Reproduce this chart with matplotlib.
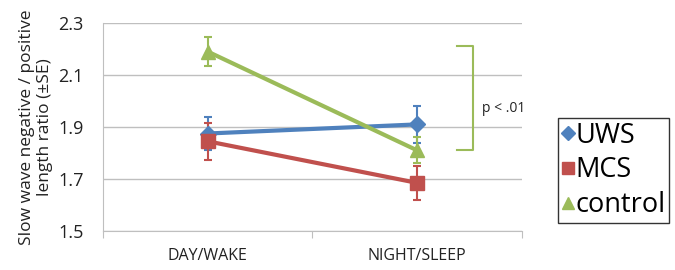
import numpy as np
import matplotlib.pyplot as plt
from matplotlib.lines import Line2D

plt.rcParams['font.family'] = ['Open Sans', 'DejaVu Sans']

categories = ["DAY/WAKE", "NIGHT/SLEEP"]
groups = ["UWS", "MCS", "control"]
means = {
    "UWS": [1.875, 1.91],
    "MCS": [1.845, 1.685],
    "control": [2.19, 1.81],
}
errors = {
    "UWS": [0.065, 0.07],
    "MCS": [0.07, 0.065],
    "control": [0.055, 0.05],
}
colors = {"UWS": "#4F81BD", "MCS": "#C0504D", "control": "#9BBB59"}
markers = {"UWS": "D", "MCS": "s", "control": "^"}
msizes = {"UWS": 8, "MCS": 10, "control": 10}

fig = plt.figure(figsize=(6.75, 2.7), dpi=100)
ax = fig.add_axes([0.1526, 0.1444, 0.6207, 0.7704])

x = np.arange(len(categories))
for g in groups:
    ax.errorbar(x, means[g], yerr=errors[g], color=colors[g], marker=markers[g],
                markersize=msizes[g], linewidth=3, elinewidth=1.5, capsize=3,
                capthick=1.5, zorder=3)

ax.set_xlim(-0.5, 1.5)
ax.set_ylim(1.5, 2.3)
ax.set_yticks([1.5, 1.7, 1.9, 2.1, 2.3])
ax.set_yticklabels(["1.5", "1.7", "1.9", "2.1", "2.3"], fontsize=13, color="#222222")
ax.yaxis.grid(True, color="#bfbfbf", linewidth=1)
ax.set_axisbelow(True)
ax.tick_params(axis='y', length=0, pad=14)

# category ticks at edges
ax.set_xticks([-0.5, 0.5, 1.5])
ax.set_xticklabels([])
ax.set_xticks(x, minor=True)
ax.set_xticklabels(categories, minor=True, fontsize=11.5, color="#222222")
ax.tick_params(axis='x', which='major', length=5, color="#bfbfbf")
ax.tick_params(axis='x', which='minor', length=0, pad=12)

for s in ["top", "right"]:
    ax.spines[s].set_visible(False)
ax.spines["left"].set_color("#bfbfbf")
ax.spines["bottom"].set_color("#bfbfbf")

ax.set_ylabel("Slow wave negative / positive\nlength ratio (\u00b1SE)", fontsize=12.5,
              color="#222222", labelpad=4, linespacing=1.1)

# significance bracket
bx0, bx1 = 1.19, 1.265
ax.plot([bx0, bx1, bx1, bx0], [2.21, 2.21, 1.81, 1.81], color="#9BBB59",
        linewidth=1.5, clip_on=False)
ax.text(1.31, 1.97, "p < .01", fontsize=10, color="#222222", va='center', ha='left')

handles = [Line2D([], [], color=colors[g], marker=markers[g], linestyle='none',
                  markersize=msizes[g] * 0.9) for g in groups]
leg = ax.legend(handles, groups, loc='upper left', bbox_to_anchor=(1.085, 0.545),
                fontsize=19.5, frameon=True, fancybox=False, edgecolor="black",
                handlelength=0.45, handletextpad=0.05, borderpad=0.15,
                labelspacing=0.25, borderaxespad=0)
leg.get_frame().set_linewidth(1)

fig.savefig("out.png", dpi=100)
